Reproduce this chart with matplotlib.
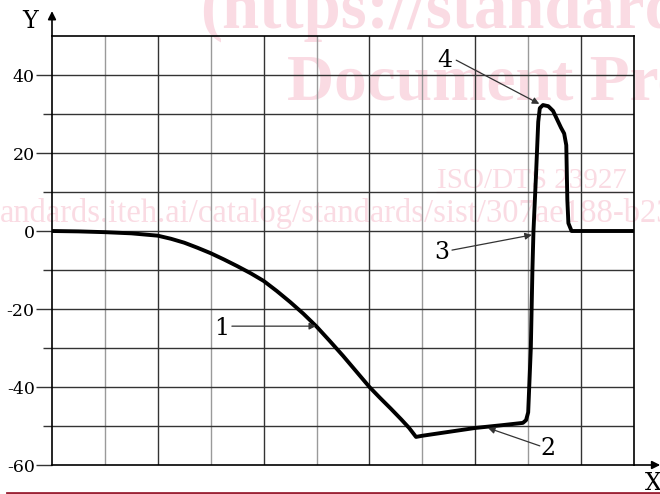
import numpy as np
import matplotlib.pyplot as plt

# ----------------------------------------------------
# Data
# ----------------------------------------------------

curve_x = [0.0, 0.5, 1.0, 1.5, 2.0, 2.25, 2.5, 2.75, 3.0, 3.25, 3.5, 3.75,
           4.0, 4.25, 4.5, 4.75, 5.0, 5.25, 5.5, 5.75, 6.0, 6.2, 6.4, 6.6,
           6.75, 6.88, 7.0, 7.5, 8.0, 8.5, 8.9, 8.96, 9.0, 9.05, 9.08, 9.1,
           9.15, 9.19, 9.22, 9.28, 9.38, 9.47, 9.55, 9.62, 9.68, 9.72, 9.74,
           9.76, 9.82, 11.0]
curve_y = [0.0, -0.1, -0.3, -0.6, -1.2, -2.0, -3.0, -4.3, -5.7, -7.3, -9.0,
           -10.8, -12.8, -15.4, -18.2, -21.2, -24.5, -28.2, -32.0, -36.0,
           -40.0, -42.8, -45.5, -48.3, -50.5, -52.8, -52.5, -51.5, -50.5,
           -49.8, -49.2, -48.5, -46.5, -30.0, -10.0, 0.0, 15.0, 28.0, 31.5,
           32.3, 32.0, 30.8, 28.5, 26.5, 25.0, 22.0, 8.0, 2.0, 0.0, 0.0]

y_labels = [-60, -40, -20, 0, 20, 40]

# callouts: label, text position, arrow start, arrow end
callout_labels = ["1", "2", "3", "4"]
callout_text = [(3.21, -24.9), (9.38, -55.8), (7.37, -5.6), (7.43, 43.8)]
callout_from = [(3.40, -24.4), (9.22, -55.1), (7.56, -4.9), (7.64, 43.8)]
callout_to = [(4.99, -24.4), (8.24, -50.5), (9.07, -1.0), (9.21, 32.6)]

# ----------------------------------------------------
# Figure
# ----------------------------------------------------

fig = plt.figure(figsize=(6.6, 4.94), dpi=100)
ax = fig.add_axes([52 / 660, 1 - 465 / 494, 582 / 660, 429 / 494])
ax.set_facecolor("none")

ax.set_xlim(0, 11)
ax.set_ylim(-60, 50)

# watermark (behind everything)
pink = "#fadbe3"
fig.text(200 / 660, 1 - 28 / 494, "(https://standards.iteh.ai)", color=pink,
         family="Liberation Serif", weight="bold", fontsize=48, zorder=-5)
fig.text(287 / 660, 1 - 100 / 494, "Document Preview", color=pink,
         family="Liberation Serif", weight="bold", fontsize=47, zorder=-5)
fig.text(437 / 660, 1 - 188 / 494, "ISO/DTS 23927", color=pink,
         family="Liberation Serif", fontsize=21, zorder=-5)
fig.add_artist(plt.Line2D([437 / 660, 627 / 660], [1 - 192 / 494, 1 - 192 / 494],
                          color=pink, lw=1, zorder=-5))
fig.text(0, 1 - 222 / 494,
         "andards.iteh.ai/catalog/standards/sist/307ae188-b233-4c2e",
         color=pink, family="Liberation Serif", fontsize=23.5, zorder=-5)

# bottom red rule
fig.add_artist(plt.Line2D([7 / 660, 1], [1 - 493 / 494, 1 - 493 / 494],
                          color="#9b2335", lw=2))

# ----------------------------------------------------
# Grid
# ----------------------------------------------------

for v in range(1, 11):
    ax.axvline(v, color="#9a9a9a" if v % 2 else "#333333", lw=1, zorder=1)
for v in range(-50, 50, 10):
    ax.axhline(v, color="#333333", lw=1, zorder=1)

for s in ax.spines.values():
    s.set_color("black")
    s.set_linewidth(1.2)

ax.set_xticks([])
ax.set_yticks(y_labels)
ax.set_yticklabels([str(v) for v in y_labels], family="DejaVu Serif", fontsize=12.5)
ax.set_yticks(range(-50, 50, 20), minor=True)
ax.tick_params(axis="y", which="major", length=11.5, width=1, color="#333333", pad=1)
ax.tick_params(axis="y", which="minor", length=6.5, width=1, color="#333333")

# axis arrows
ax.annotate("", xy=(0, 1.058), xytext=(0, 1.0), xycoords="axes fraction",
            arrowprops=dict(arrowstyle="-|>", color="black", lw=1.2,
                            mutation_scale=12, shrinkA=0, shrinkB=0))
ax.annotate("", xy=(1.045, 0), xytext=(1.0, 0), xycoords="axes fraction",
            arrowprops=dict(arrowstyle="-|>", color="black", lw=1.2,
                            mutation_scale=12, shrinkA=0, shrinkB=0))
fig.text(30 / 660, 1 - 22 / 494, "Y", family="DejaVu Serif", fontsize=17,
         ha="center", va="center")
fig.text(653 / 660, 1 - 483 / 494, "X", family="DejaVu Serif", fontsize=17,
         ha="center", va="center")

# ----------------------------------------------------
# Curve
# ----------------------------------------------------

ax.plot(curve_x, curve_y, color="black", lw=2.8, solid_joinstyle="round",
        solid_capstyle="round", zorder=5)

# ----------------------------------------------------
# Callouts
# ----------------------------------------------------

for lab, t, a, b in zip(callout_labels, callout_text, callout_from, callout_to):
    ax.text(t[0], t[1], lab, family="DejaVu Serif", fontsize=17,
            ha="center", va="center", zorder=6)
    ax.annotate("", xy=b, xytext=a,
                arrowprops=dict(arrowstyle="-|>", color="#333333", lw=0.9,
                                mutation_scale=10, shrinkA=0, shrinkB=0),
                zorder=6)

fig.savefig("out.png", dpi=100)
